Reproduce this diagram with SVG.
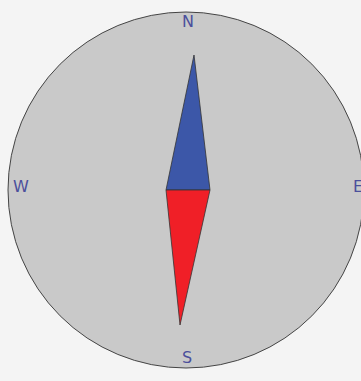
<svg xmlns="http://www.w3.org/2000/svg" width="361" height="381" viewBox="0 0 361 381">
<style>
.lbl{font-family:"DejaVu Sans",sans-serif;font-size:16px;fill:#4b4f9c;text-anchor:middle}
.n{stroke:#333;stroke-width:0.8;stroke-linejoin:round}
</style>
<rect width="361" height="381" fill="#f4f4f4"/>
<g id="dial"><circle cx="186" cy="190" r="178" fill="#c9c9c9" stroke="#444" stroke-width="1"/></g>
<g id="needle">
<polygon class="n" points="194,55 210,190 166,190" fill="#3c57a8"/>
<polygon class="n" points="166,190 210,190 180,325" fill="#f01f27"/>
</g>
<g id="labels">
<text class="lbl" x="188" y="27">N</text>
<text class="lbl" x="21" y="192">W</text>
<text class="lbl" x="358" y="192">E</text>
<text class="lbl" x="187" y="363">S</text>
</g>
</svg>
